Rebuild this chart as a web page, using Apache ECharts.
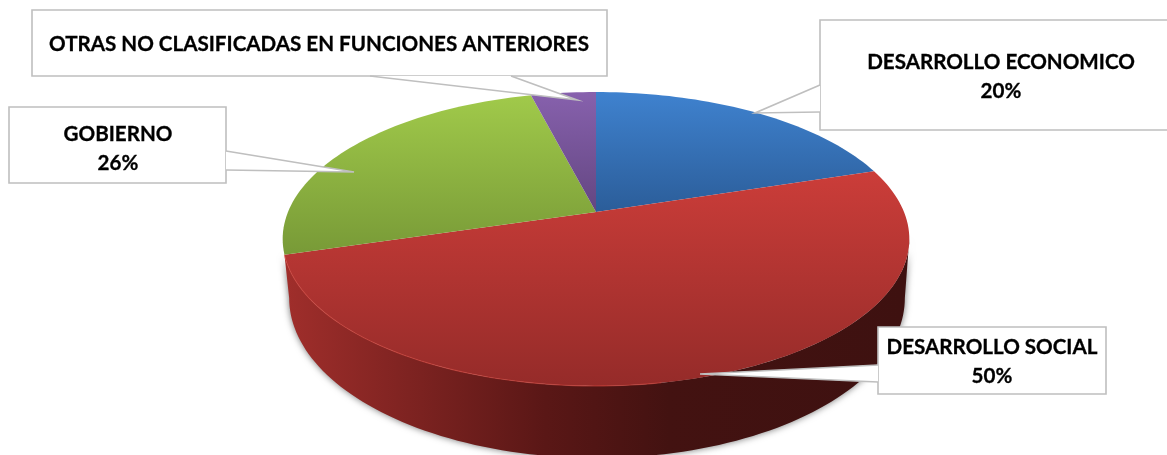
<!DOCTYPE html>
<html>
<head>
<meta charset="utf-8">
<title>Funciones</title>
<script src="https://cdn.jsdelivr.net/npm/echarts@6/dist/echarts.min.js"></script>
<style>
  html, body { margin: 0; padding: 0; background: #fff; }
  #chart { width: 1167px; height: 455px; }
</style>
</head>
<body>
<div id="chart"></div>
<script>
// datos
const categories = ['DESARROLLO ECONOMICO', 'DESARROLLO SOCIAL', 'GOBIERNO', 'OTRAS NO CLASIFICADAS EN FUNCIONES ANTERIORES'];
const values = [20.1, 50.3, 25.6, 4];

// degradados de la cara superior [claro, oscuro, y inicial, y final]
const topColors = [
  ['#3f82cf', '#2b5d99', 92, 212],
  ['#cb3d39', '#952b29', 172, 386],
  ['#a0c94a', '#789a37', 97, 254],
  ['#8761ad', '#634681', 92, 212]
];
// recuadros de las etiquetas: rect [x, y, w, h] y cuña [base1, punta, base2]
const callouts = [
  { rect: [820, 20, 360, 110], wedge: [[820, 85], [755, 113], [820, 112]], text: [1001, 76.5], showPct: true },
  { rect: [878, 327, 228, 67], wedge: [[878, 365], [700, 374], [878, 382]], text: [992, 362], showPct: true },
  { rect: [9, 107, 217, 76], wedge: [[226, 151], [354, 172], [226, 170]], text: [118, 148.5], showPct: true },
  { rect: [32, 10, 575, 66], wedge: [[370, 76], [577, 100], [511, 76]], text: [319, 44], showPct: false }
];

const total = values.reduce((a, b) => a + b, 0);
const starts = values.map((v, i) => values.slice(0, i).reduce((a, b) => a + b, 0));

// proyeccion del disco: cara superior (0) y base (1)
const persp = 0.1837;
const rings = [
  { cx: 596, cy: 212, d: 308, p: 142 },
  { cx: 597, cy: 268.6, d: 302.6, p: 154.6 }
];
function project(deg, level) {
  const r = rings[level], t = deg * Math.PI / 180;
  const w = 1 + persp * Math.cos(t);
  return [r.cx + r.d * Math.sin(t) / w, r.cy - r.p * Math.cos(t) / w];
}
function arc(from, to, level) {
  const pts = [], n = Math.max(2, Math.ceil(Math.abs(to - from) / 1.5));
  for (let i = 0; i <= n; i++) pts.push(project(from + (to - from) * i / n, level));
  return pts;
}
const toDeg = v => v / total * 360;
const rightEdge = Math.acos(-persp) * 180 / Math.PI;
const leftEdge = 360 - rightEdge;
const frontIndex = values.indexOf(Math.max(...values));

function vGrad(c) {
  return { type: 'linear', x: 0, y: c[2], x2: 0, y2: c[3], global: true,
    colorStops: [{ offset: 0, color: c[0] }, { offset: 1, color: c[1] }] };
}
const wallGrad = { type: 'linear', x: 285, y: 0, x2: 905, y2: 0, global: true,
  colorStops: [
    { offset: 0, color: '#a02e2b' },
    { offset: 0.2, color: '#7e2321' },
    { offset: 0.42, color: '#5a1716' },
    { offset: 0.62, color: '#431211' },
    { offset: 1, color: '#3e1110' }
  ] };

function renderWall(params, api) {
  const i = api.value(1);
  if (i !== frontIndex) return { type: 'group', children: [] };
  const end = toDeg(starts[i] + values[i]);
  const pts = arc(rightEdge, end, 0).concat(arc(leftEdge, rightEdge, 1));
  return {
    type: 'polygon', shape: { points: pts },
    style: { fill: wallGrad, shadowBlur: 7, shadowColor: 'rgba(0,0,0,0.55)' }
  };
}
function renderTop(params, api) {
  const i = api.value(1);
  const a = toDeg(starts[i]), b = toDeg(starts[i] + api.value(0));
  const kids = [{
    type: 'polygon', shape: { points: [[rings[0].cx, rings[0].cy]].concat(arc(a, b, 0)) },
    style: { fill: vGrad(topColors[i]) }
  }];
  if (i === frontIndex) {
    // brillo del borde, solo en la parte delantera izquierda
    kids.push({
      type: 'polyline', shape: { points: arc(170, b, 0) },
      style: { fill: null, stroke: 'rgba(214,72,64,0.6)', lineWidth: 1.1 }
    });
  }
  return { type: 'group', children: kids };
}
function renderCallout(params, api) {
  const i = api.value(1), c = callouts[i], r = c.rect;
  const lb = '#bfbfbf';
  const label = c.showPct ? categories[i] + '\n' + Math.round(api.value(0)) + '%' : categories[i];
  return {
    type: 'group',
    children: [
      { type: 'rect', shape: { x: r[0], y: r[1], width: r[2], height: r[3] },
        style: { fill: '#fff', stroke: lb, lineWidth: 1.6 } },
      { type: 'polygon', shape: { points: c.wedge }, style: { fill: '#fff', stroke: 'none' } },
      { type: 'polyline', shape: { points: c.wedge }, style: { fill: null, stroke: lb, lineWidth: 1.6 } },
      { type: 'text', x: c.text[0], y: c.text[1],
        style: { text: label, fill: '#000', stroke: '#000', lineWidth: 0.3,
          font: 'bold 20.6px Lato, "Noto Sans", sans-serif', lineHeight: 29,
          align: 'center', verticalAlign: 'middle' } }
    ]
  };
}

const seriesData = values.map((v, i) => [v, i]);
const chart = echarts.init(document.getElementById('chart'), null, { renderer: 'canvas' });
chart.setOption({
  backgroundColor: '#ffffff',
  animation: false,
  tooltip: { show: false },
  series: [
    { type: 'custom', coordinateSystem: 'none', z: 1, silent: true, data: seriesData, renderItem: renderWall },
    { type: 'custom', coordinateSystem: 'none', z: 2, silent: true, data: seriesData, renderItem: renderTop },
    { type: 'custom', coordinateSystem: 'none', z: 3, silent: true, data: seriesData, renderItem: renderCallout }
  ]
});
</script>
</body>
</html>
